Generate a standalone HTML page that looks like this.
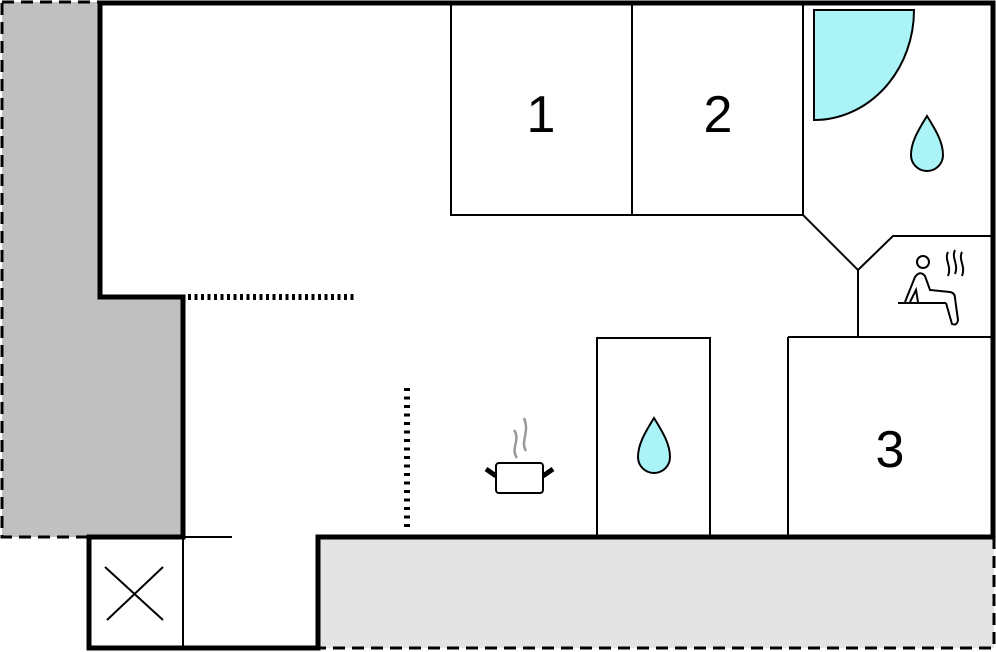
<!DOCTYPE html>
<html><head><style>html,body{margin:0;padding:0;background:#fff}svg{display:block}</style></head>
<body>
<svg width="996" height="652" viewBox="0 0 996 652" xmlns="http://www.w3.org/2000/svg">
<rect x="0" y="0" width="996" height="652" fill="#fff"/>
<!-- grey areas -->
<path d="M2,2 H100 V297 H183 V537 H2 Z" fill="#c0c0c0"/>
<path d="M2,2 H100 M183,537 H2 V2" fill="none" stroke="#000" stroke-width="3" stroke-dasharray="12,7"/>
<rect x="318" y="537" width="676" height="111" fill="#e4e4e4"/>
<path d="M994,537 V648 H318" fill="none" stroke="#000" stroke-width="3" stroke-dasharray="12,7"/>
<!-- inner room lines -->
<g fill="none" stroke="#000" stroke-width="2">
<rect x="451" y="3" width="181" height="212"/>
<rect x="632" y="3" width="171" height="212"/>
<path d="M803,3 V215 L858,270 L893,236 H993"/>
<path d="M858,270 V337 M788,337 H993 M788,337 V537"/>
<rect x="597" y="338" width="113" height="199"/>
<path d="M183,537 H232 M183,537 V648"/>
<path d="M105,567 L163,620 M163,567 L107,620"/>
</g>
<!-- dotted -->
<line x1="188" y1="297" x2="357" y2="297" stroke="#000" stroke-width="6" stroke-dasharray="3,3.5"/>
<line x1="407" y1="388" x2="407" y2="530" stroke="#000" stroke-width="6" stroke-dasharray="3,5.5"/>
<!-- outer walls -->
<path d="M100,3 H993 V537 H318 V648 H89 V537 H183 V297 H100 Z" fill="none" stroke="#000" stroke-width="5"/>
<!-- shower -->
<path d="M814,10 L914,10 A100,110 0 0 1 814,120 Z" fill="#aaf4f8" stroke="#000" stroke-width="2"/>
<!-- drops -->
<path d="M927,116 C937,132 943,143 943,155 A16,16 0 0 1 911,155 C911,143 917,132 927,116 Z" fill="#aaf4f8" stroke="#000" stroke-width="2"/>
<path d="M654,418 C664,434 670,445 670,457 A16,16 0 0 1 638,457 C638,445 644,434 654,418 Z" fill="#aaf4f8" stroke="#000" stroke-width="2"/>
<!-- pot -->
<g stroke="#000" stroke-width="2" fill="#fff">
<rect x="496" y="463" width="47" height="30" rx="3"/>
</g>
<path d="M486,469 L496,476 M553,469 L543,476" stroke="#000" stroke-width="5"/>
<path d="M517,458 C510,448 521,440 514,430 M526,451 C520,441 530,433 524,418" stroke="#999" stroke-width="2.5" fill="none"/>
<!-- sauna -->
<g fill="none" stroke="#000" stroke-width="2">
<circle cx="923" cy="262" r="6"/>
<path d="M898,303 H946"/>
<path d="M905,302 L915,277 Q920,270 925,276 L930,290 L950,292 Q955,293 955,298 L958,320 Q957,326 952,324 L946,303"/>
<path d="M910,302 L916,290 L918,302"/>
<path d="M948,252 C944,260 952,266 948,276 M955,250 C951,258 959,264 955,274 M962,252 C958,260 966,266 962,276"/>
</g>
<!-- numbers -->
<g font-family="Liberation Sans, sans-serif" font-size="52" text-anchor="middle" fill="#000">
<text x="541" y="132">1</text>
<text x="718" y="132">2</text>
<text x="890" y="467">3</text>
</g>
</svg>
</body></html>
